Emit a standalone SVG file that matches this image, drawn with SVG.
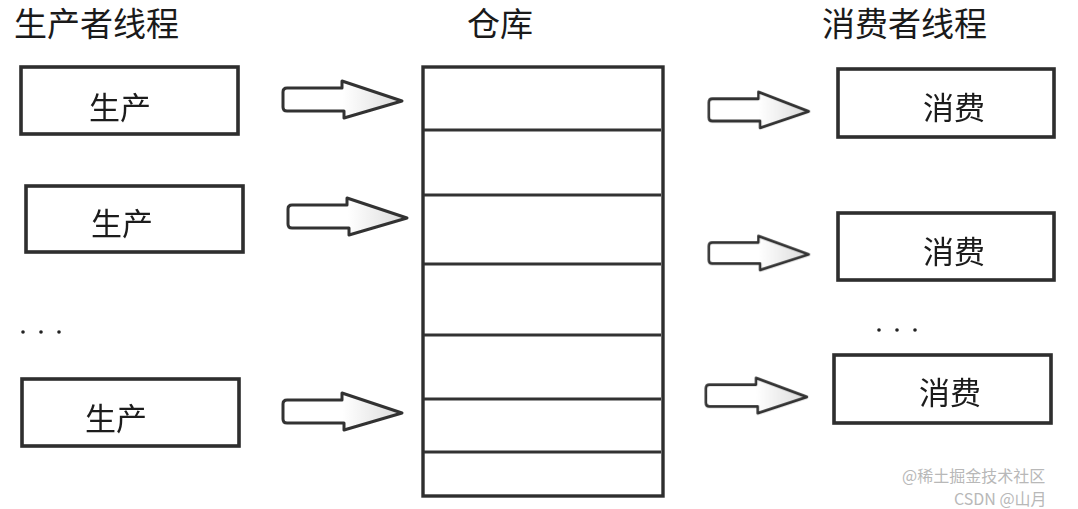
<svg xmlns="http://www.w3.org/2000/svg" width="1078" height="509" viewBox="0 0 1078 509">
<style>
.bg{fill:#ffffff}
.box{fill:#ffffff;stroke:#2e2e2e;stroke-width:3.6}
.wh{fill:#ffffff;stroke:#2e2e2e;stroke-width:3.4}
.shelf{stroke:#333333;stroke-width:2.8;fill:none}
.title{font-family:"Noto Sans CJK SC","Noto Sans CJK JP",sans-serif;font-size:33px;fill:#1a1a1a}
.lbl{font-family:"Noto Sans CJK SC","Noto Sans CJK JP",sans-serif;font-size:31px;fill:#1a1a1a}
.dot{fill:#222222}
.wm{font-family:"Noto Sans CJK SC","Noto Sans CJK JP",sans-serif;font-size:16px;fill:#b8b8b8}
.arr{fill:url(#ag);stroke:#333333;stroke-width:3;stroke-linejoin:round}
</style>
<defs>
<filter id="soft" x="-5%" y="-5%" width="110%" height="110%">
<feGaussianBlur stdDeviation="0.7"/>
</filter>
<linearGradient id="ag" x1="0" y1="0" x2="1" y2="0">
<stop offset="0" stop-color="#ffffff"/>
<stop offset="0.5" stop-color="#ffffff"/>
<stop offset="1" stop-color="#dadada"/>
</linearGradient>
<path id="arrow" class="arr" d="M5,7 L60,7 L60,0 L120,20 L62,37 L62,30 L5,30 Q1,30 1,26 L1,11 Q1,7 5,7 Z"/>
</defs>
<rect class="bg" x="0" y="0" width="1078" height="509"/>

<g id="titles">
<text class="title" x="14" y="36">生产者线程</text>
<text class="title" x="467" y="36">仓库</text>
<text class="title" x="822" y="36">消费者线程</text>
</g>

<g id="producer1" filter="url(#soft)">
<rect class="box" x="21" y="67" width="217" height="67"/>
<text class="lbl" x="120" y="119" text-anchor="middle">生产</text>
</g>
<g id="producer2" filter="url(#soft)">
<rect class="box" x="26" y="186" width="217" height="66"/>
<text class="lbl" x="122" y="235" text-anchor="middle">生产</text>
</g>
<g id="producer-ellipsis">
<circle class="dot" cx="23" cy="332" r="1.8"/>
<circle class="dot" cx="41" cy="332" r="1.8"/>
<circle class="dot" cx="59" cy="332" r="1.8"/>
</g>
<g id="producer3" filter="url(#soft)">
<rect class="box" x="22" y="379" width="217" height="67"/>
<text class="lbl" x="116" y="430" text-anchor="middle">生产</text>
</g>

<g id="warehouse" filter="url(#soft)">
<rect class="wh" x="423" y="67" width="240" height="429"/>
<line class="shelf" x1="424" y1="130" x2="661" y2="130"/>
<line class="shelf" x1="424" y1="195" x2="661" y2="195"/>
<line class="shelf" x1="424" y1="264" x2="661" y2="264"/>
<line class="shelf" x1="424" y1="335" x2="661" y2="335"/>
<line class="shelf" x1="424" y1="399" x2="661" y2="399"/>
<line class="shelf" x1="424" y1="452" x2="661" y2="452"/>
</g>

<g id="consumer1" filter="url(#soft)">
<rect class="box" x="838" y="69" width="216" height="68"/>
<text class="lbl" x="954" y="119" text-anchor="middle">消费</text>
</g>
<g id="consumer2" filter="url(#soft)">
<rect class="box" x="838" y="213" width="216" height="67"/>
<text class="lbl" x="954" y="263" text-anchor="middle">消费</text>
</g>
<g id="consumer-ellipsis">
<circle class="dot" cx="879" cy="330" r="1.8"/>
<circle class="dot" cx="897" cy="330" r="1.8"/>
<circle class="dot" cx="915" cy="330" r="1.8"/>
</g>
<g id="consumer3" filter="url(#soft)">
<rect class="box" x="834" y="355" width="217" height="68"/>
<text class="lbl" x="950" y="404" text-anchor="middle">消费</text>
</g>

<g id="connectors" filter="url(#soft)">
<use href="#arrow" transform="translate(282,81)"/>
<use href="#arrow" transform="translate(287,198)"/>
<use href="#arrow" transform="translate(282,393)"/>
<use href="#arrow" transform="translate(708,92) scale(0.84,0.97)"/>
<use href="#arrow" transform="translate(708,236) scale(0.84,0.92)"/>
<use href="#arrow" transform="translate(705,378) scale(0.85,0.95)"/>
</g>

<g id="watermark">
<text class="wm" x="902" y="482">@稀土掘金技术社区</text>
<text class="wm" x="954" y="505" font-size="14">CSDN @山月</text>
</g>
</svg>
